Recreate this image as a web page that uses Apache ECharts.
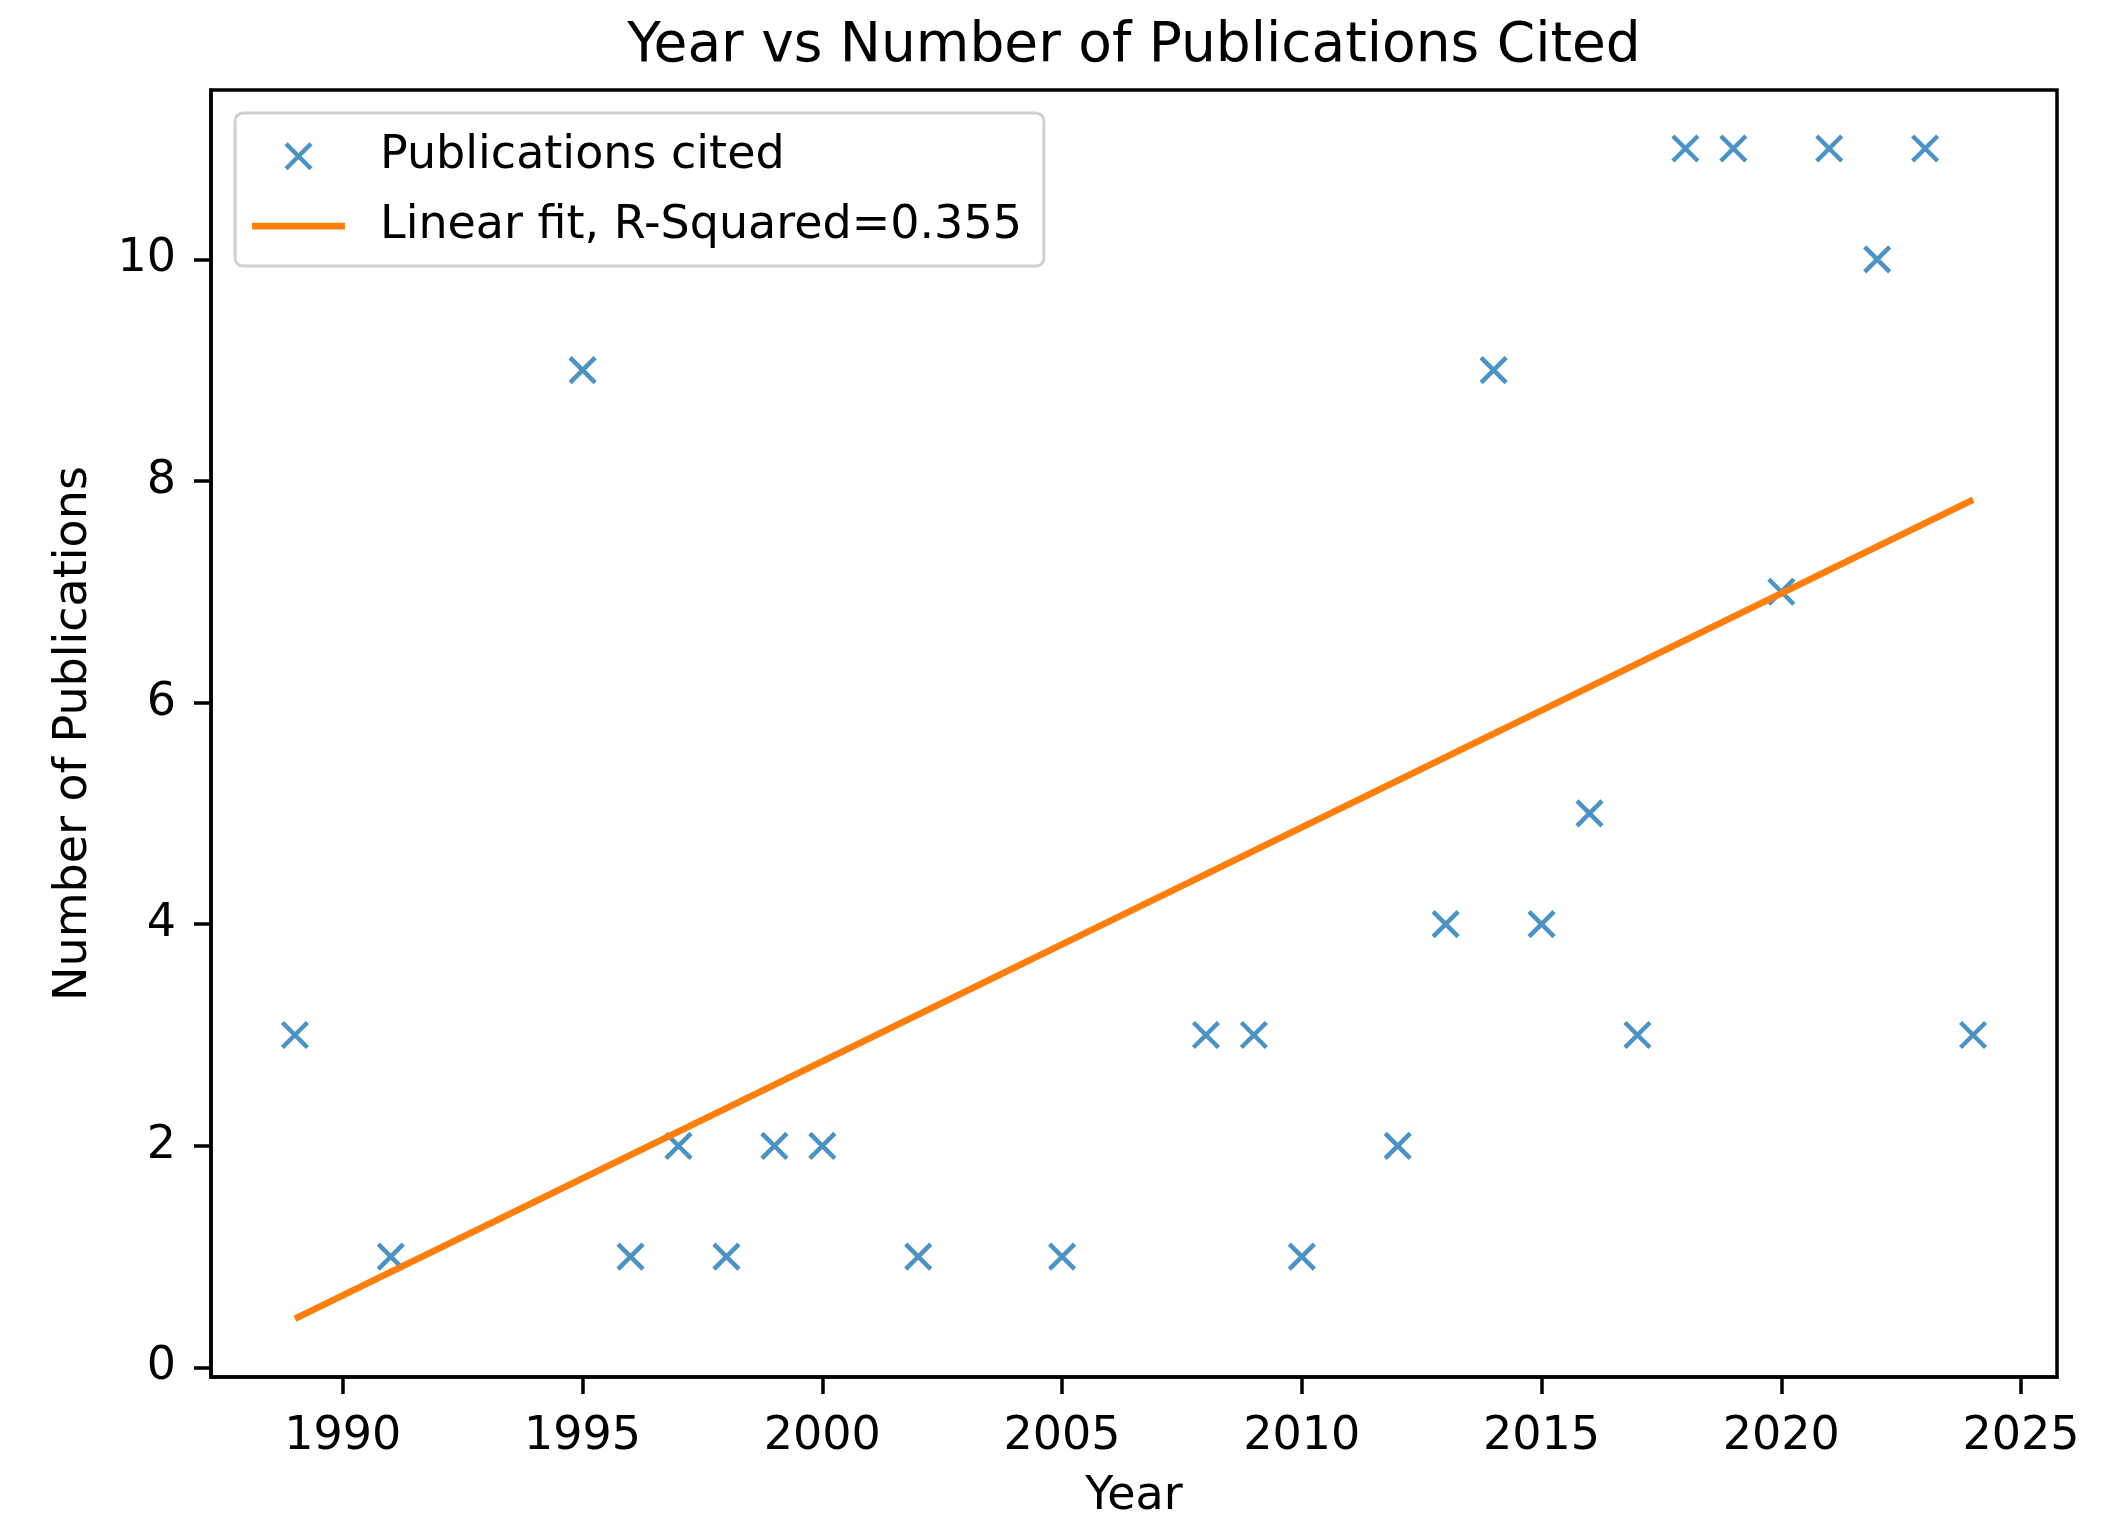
<!DOCTYPE html>
<html>
<head>
<meta charset="utf-8">
<script src="https://cdn.jsdelivr.net/npm/echarts@6/dist/echarts.min.js"></script>
<style>
  html, body { margin: 0; padding: 0; background: #fff; }
  #chart { width: 2122px; height: 1539px; }
</style>
</head>
<body>
<div id="chart"></div>
<script>
// data
const years = [1989, 1991, 1995, 1996, 1997, 1998, 1999, 2000, 2002, 2005, 2008, 2009, 2010,
  2012, 2013, 2014, 2015, 2016, 2017, 2018, 2019, 2020, 2021, 2022, 2023, 2024]
const pubs = [3, 1, 9, 1, 2, 1, 2, 2, 1, 1, 3, 3, 1, 2, 4, 9, 4, 5, 3, 11, 11, 7, 11, 10, 11, 3]

// ends of the fitted line
const fitYears = [1989, 2024]
const fitValues = [0.44, 7.83]

const xTicks = [1990, 1995, 2000, 2005, 2010, 2015, 2020, 2025]
const yTicks = [0, 2, 4, 6, 8, 10]

const FONT = 'DejaVu Sans'
const BLUE = '#1f77b4'
const ORANGE = '#ff7f0e'
const xMark = 'path://M0,0L10,10M10,0L0,10'
// legend icons, padded with empty moves so they keep their size in the icon box
const xIcon = 'path://M0,0L0,0M10.5,10.5L35.5,35.5M35.5,10.5L10.5,35.5M46,46L46,46'
const lineIcon = 'path://M0,0L0,0M0,19.7L93,19.7L93,26.3L0,26.3ZM93,46L93,46'

const chart = echarts.init(document.getElementById('chart'))

const option = {
  animation: false,
  backgroundColor: '#fff',
  title: {
    text: 'Year vs Number of Publications Cited',
    left: 1134,
    top: 19,
    textAlign: 'center',
    padding: 0,
    textStyle: { fontFamily: FONT, fontSize: 55, fontWeight: 'normal', color: '#000' }
  },
  grid: {
    left: 211, right: 65, top: 90, bottom: 162,
    show: true, borderColor: '#000', borderWidth: 3.5, backgroundColor: 'transparent'
  },
  legend: {
    orient: 'vertical',
    left: 235,
    top: 113,
    padding: [18, 22, 17, 17],
    itemGap: 21.6,
    itemWidth: 93,
    itemHeight: 46,
    backgroundColor: 'rgba(255,255,255,0.8)',
    borderColor: '#d0d0d0',
    borderWidth: 3,
    borderRadius: 8,
    textStyle: { fontFamily: FONT, fontSize: 46, color: '#000', padding: [0, 0, 0, 30] },
    data: [
      {
        name: 'Publications cited',
        icon: xIcon,
        itemStyle: { color: 'transparent', borderColor: BLUE, borderWidth: 4.5 }
      },
      {
        name: 'Linear fit, R-Squared=0.355',
        icon: lineIcon,
        itemStyle: { color: ORANGE, borderWidth: 0 }
      }
    ]
  },
  xAxis: {
    type: 'value',
    min: 1987.25,
    max: 2025.75,
    name: 'Year',
    nameLocation: 'middle',
    nameGap: 97,
    nameTextStyle: { fontFamily: FONT, fontSize: 46, color: '#000' },
    splitLine: { show: false },
    axisLine: { show: true, onZero: false, lineStyle: { color: '#000', width: 3.5 } },
    axisTick: { show: true, length: 17, lineStyle: { color: '#000', width: 3.5 }, customValues: xTicks },
    axisLabel: { fontFamily: FONT, fontSize: 46, color: '#000', margin: 37, customValues: xTicks, formatter: v => String(v) }
  },
  yAxis: {
    type: 'value',
    min: -0.086,
    max: 11.528,
    name: 'Number of Publications',
    nameLocation: 'middle',
    nameGap: 114,
    nameRotate: 90,
    nameTextStyle: { fontFamily: FONT, fontSize: 46, color: '#000' },
    splitLine: { show: false },
    axisLine: { show: true, onZero: false, lineStyle: { color: '#000', width: 3.5 } },
    axisTick: { show: true, length: 17, lineStyle: { color: '#000', width: 3.5 }, customValues: yTicks },
    axisLabel: { fontFamily: FONT, fontSize: 46, color: '#000', margin: 35, customValues: yTicks, formatter: v => String(v) }
  },
  series: [
    {
      name: 'Publications cited',
      type: 'scatter',
      symbol: xMark,
      symbolSize: 25,
      itemStyle: { color: 'transparent', borderColor: BLUE, borderWidth: 4.5 },
      data: years.map((y, i) => [y, pubs[i]]),
      z: 2
    },
    {
      name: 'Linear fit, R-Squared=0.355',
      type: 'line',
      showSymbol: false,
      symbol: 'none',
      lineStyle: { color: ORANGE, width: 6.5 },
      itemStyle: { color: ORANGE },
      data: fitYears.map((y, i) => [y, fitValues[i]]),
      z: 3
    }
  ]
}

chart.setOption(option)
</script>
</body>
</html>
